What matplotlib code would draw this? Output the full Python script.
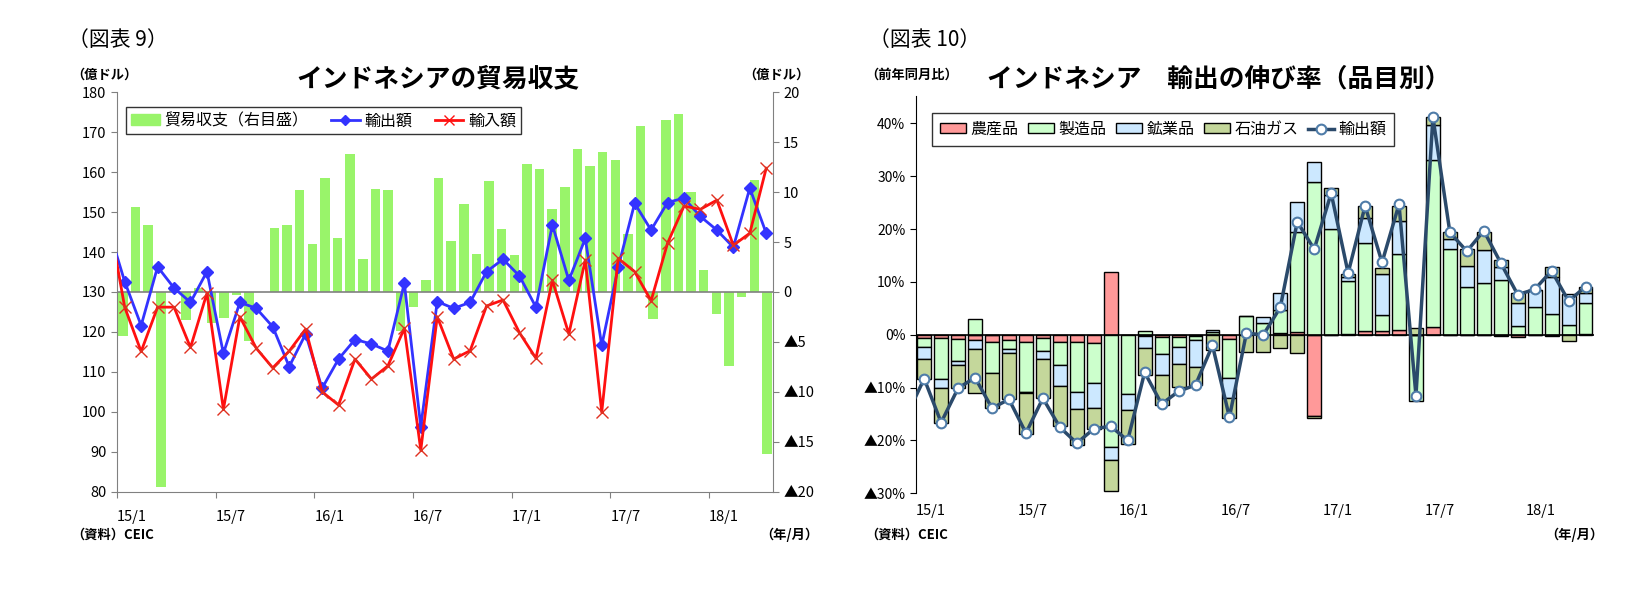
import numpy as np
import matplotlib
matplotlib.use("Agg")
import matplotlib.pyplot as plt
from matplotlib.lines import Line2D
from matplotlib.patches import Patch

plt.rcParams["font.family"] = ["Noto Sans CJK JP", "DejaVu Sans"]

# ---------- Chart 9 data ----------
months9 = ["15/1", "15/7", "16/1", "16/7", "17/1", "17/7", "18/1"]
export_prev = 146.2
import_prev = 149.2
exports = [132.6, 121.6, 136.3, 131.0, 127.4, 135.1, 114.6, 127.4, 125.9, 121.3,
           111.3, 119.5, 105.9, 113.2, 118.1, 117.0, 115.2, 132.2, 96.3, 127.6,
           125.9, 127.4, 135.1, 138.2, 134.0, 126.2, 146.8, 132.9, 143.4, 116.6,
           136.2, 152.2, 145.5, 152.4, 153.5, 148.9, 145.5, 141.2, 156.0, 144.7]
imports = [126.2, 115.1, 126.2, 126.2, 116.1, 129.7, 100.6, 123.8, 115.9, 111.0,
           115.2, 120.7, 105.0, 101.7, 113.2, 108.2, 111.5, 120.9, 90.4, 123.8,
           113.2, 115.3, 126.5, 128.0, 119.8, 113.4, 132.9, 119.5, 138.0, 99.9,
           138.4, 135.1, 127.8, 142.2, 151.5, 150.7, 153.0, 141.7, 144.7, 161.0]
balance = [-4.4, 8.5, 6.7, -19.5, 0.3, -2.8, 0.4, -3.1, -2.6, -0.3,
           -4.9, 0.0, 6.4, 6.7, 10.2, 4.8, 11.4, 5.4, 13.8, 3.3,
           10.3, 10.2, -3.9, -1.5, 1.2, 11.4, 5.1, 8.8, 3.8, 11.1,
           6.3, 3.7, 12.8, 12.3, 8.3, 10.5, 14.3, 12.6, 14.0, 13.2,
           5.8, 16.6, -2.7, 17.2, 17.8, 10.0, 2.2, -2.2, -7.4, -0.5,
           11.2, -16.2]

# ---------- Chart 10 data ----------
months10 = ["15/1", "15/7", "16/1", "16/7", "17/1", "17/7", "18/1"]
agri = [-0.6, -0.6, -0.8, -0.9, -1.3, -0.9, -1.3, -0.6, -1.3, -1.3,
        -1.5, 11.8, -0.1, -0.3, -0.4, -0.4, -0.3, -0.1, -0.8, 0.0,
        0.0, 0.4, 0.6, -15.4, 0.0, 0.2, 0.7, 0.7, 0.9, 0.0,
        1.5, 0.0, -0.1, -0.1, -0.3, -0.4, -0.1, -0.2, 0.0, 0.1]
manu = [-1.7, -7.8, -4.2, 3.0, -6.0, -1.8, -9.5, -2.5, -4.5, -9.5,
        -7.6, -21.3, -11.1, 0.8, -3.2, -1.9, -0.6, 0.6, -7.4, 3.6,
        2.3, 4.3, 18.8, 28.9, 20.0, 10.0, 16.6, 3.1, 14.4, -12.6,
        31.6, 16.2, 9.1, 9.8, 10.4, 1.6, 5.2, 3.9, 1.8, 5.9]
mine = [-2.3, -1.7, -0.8, -1.8, 0.0, -0.8, -0.3, -1.5, -3.8, -3.2,
        -4.7, -2.3, -3.1, -2.2, -4.1, -3.2, -5.2, 0.3, -3.8, 0.0,
        1.0, 3.2, 5.7, 3.8, 6.4, 0.8, 4.9, 7.8, 6.2, 0.0,
        6.7, 1.9, 4.0, 6.2, 2.5, 4.4, 3.2, 7.1, 5.9, 1.9]
oil = [-3.8, -6.6, -4.3, -8.3, -6.6, -8.7, -7.6, -7.4, -7.7, -6.8,
       -4.0, -5.9, -6.4, -5.2, -5.5, -4.4, -3.4, -2.8, -3.8, -3.2,
       -3.3, -2.5, -3.5, -0.3, 1.4, 0.6, 2.2, 1.1, 2.8, 1.3,
       1.5, 1.3, 3.1, 3.4, 1.3, 1.9, 0.0, 1.8, -1.1, 1.1]
total_prev = -15.1
total = [-8.3, -16.6, -10.1, -8.1, -13.9, -12.2, -18.6, -12.0, -17.5, -20.5,
         -17.8, -17.3, -20.0, -7.1, -13.1, -10.7, -9.5, -2.0, -15.6, 0.3,
         0.0, 5.2, 21.4, 16.2, 26.8, 11.7, 24.4, 13.7, 24.7, -11.5,
         41.2, 19.4, 15.8, 19.7, 13.6, 7.6, 8.6, 12.1, 6.4, 9.1]

def neg_label(v, suffix=""):
    v = int(round(v))
    return ("▲" + str(-v) if v < 0 else str(v)) + suffix

fig = plt.figure(figsize=(16.52, 6.03), dpi=100)

# ================= Chart 9 =================
rect9 = [0.0708, 0.1846, 0.397, 0.6624]
axb = fig.add_axes(rect9)
xb = np.arange(len(balance))
axb.bar(xb, balance, width=0.75, color="#99F46A", zorder=1)
axb.set_xlim(-0.47, len(balance) - 0.53)
axb.set_ylim(-20, 20)
axb.yaxis.tick_right()
axb.set_yticks(np.arange(-20, 21, 5))
axb.set_yticklabels([neg_label(v) for v in np.arange(-20, 21, 5)])
axb.set_xticks([])
for s in ["top", "left", "bottom"]:
    axb.spines[s].set_visible(False)
axb.spines["right"].set_color("#808080")
axb.tick_params(axis="y", labelsize=10.5, direction="out", length=4, color="#808080")

axl = fig.add_axes(rect9, facecolor="none")
n = len(exports)
xl = np.arange(-1, n)
axl.axhline(130, color="#808080", lw=1.2, zorder=1)
axl.plot(xl, [export_prev] + exports, color="#3333FF", lw=2, marker="D", ms=6, zorder=3)
axl.plot(xl, [import_prev] + imports, color="#FF1010", lw=2, marker="x", ms=8, mec="#E03020", mew=1, zorder=4)
axl.set_xlim(-0.47, n - 0.6)
axl.set_ylim(80, 180)
axl.set_yticks(np.arange(80, 181, 10))
axl.set_xticks(np.arange(0, n, 6) - 0.47)
axl.set_xticklabels(months9, ha="left")
for s in ["top", "right"]:
    axl.spines[s].set_visible(False)
axl.spines["left"].set_color("#808080")
axl.spines["bottom"].set_color("#808080")
axl.tick_params(axis="both", labelsize=10.5, direction="out", length=4, color="#808080")
axl.tick_params(axis="x", pad=9)

h9 = [Patch(color="#99F46A"),
      Line2D([], [], color="#3333FF", lw=2, marker="D", ms=5),
      Line2D([], [], color="#FF1010", lw=2, marker="x", ms=7)]
leg9 = fig.legend(h9, ["貿易収支（右目盛）", "輸出額", "輸入額"], loc="upper left",
                  bbox_to_anchor=(0.0715, 0.835), ncol=3, fontsize=11.5, frameon=True,
                  fancybox=False, edgecolor="black", handlelength=1.8, columnspacing=1.4,
                  borderpad=0.3, handletextpad=0.3)
leg9.get_frame().set_linewidth(1)

fig.text(0.041, 0.934, "（図表 9）", fontsize=15, ha="left", va="center")
fig.text(0.265, 0.869, "インドネシアの貿易収支", fontsize=18.5, fontweight="bold", ha="center", va="center")
fig.text(0.043, 0.876, "（億ドル）", fontsize=9.5, fontweight="bold", ha="left", va="center")
fig.text(0.450, 0.876, "（億ドル）", fontsize=9.5, fontweight="bold", ha="left", va="center")
fig.text(0.043, 0.113, "（資料）CEIC", fontsize=9.5, fontweight="bold", ha="left", va="center")
fig.text(0.478, 0.113, "（年/月）", fontsize=9.5, fontweight="bold", ha="center", va="center")

# ================= Chart 10 =================
ax2 = fig.add_axes([0.5543, 0.1819, 0.4106, 0.6589])
x2 = np.arange(len(total))
comps = [agri, manu, mine, oil]
colors = ["#FF9999", "#CCFFCC", "#CCE8FF", "#C4D79B"]
labels = ["農産品", "製造品", "鉱業品", "石油ガス"]
pos_base = np.zeros(len(total))
neg_base = np.zeros(len(total))
for vals, c, lab in zip(comps, colors, labels):
    v = np.array(vals)
    bottom = np.where(v >= 0, pos_base, neg_base)
    ax2.bar(x2, v, bottom=bottom, width=0.82, color=c, edgecolor="black", lw=1, label=lab, zorder=2)
    pos_base = pos_base + np.where(v >= 0, v, 0)
    neg_base = neg_base + np.where(v < 0, v, 0)
ax2.axhline(0, color="black", lw=1.2, zorder=3)
ax2.plot(np.arange(-1, len(total)), [total_prev] + total, color="#2B4A6B", lw=2.5, marker="o",
         ms=7, mfc="white", mec="#4F7CA8", mew=1.5, zorder=4, label="輸出額")
ax2.set_xlim(-0.5, len(total) - 0.5)
ax2.set_ylim(-30, 45.2)
ax2.set_yticks(np.arange(-30, 41, 10))
ax2.set_yticklabels([neg_label(v, "%") for v in np.arange(-30, 41, 10)])
ax2.set_xticks(np.arange(0, len(total), 6) - 0.5)
ax2.set_xticklabels(months10, ha="left")
for s in ["top", "right", "bottom"]:
    ax2.spines[s].set_visible(False)
ax2.tick_params(axis="y", labelsize=10, direction="out", length=4)
ax2.tick_params(axis="x", labelsize=10.5, length=0, pad=8)
h2, l2 = ax2.get_legend_handles_labels()
order = [1, 2, 3, 4, 0]
leg10 = fig.legend([h2[i] for i in order], [l2[i] for i in order], loc="upper left",
                   bbox_to_anchor=(0.5595, 0.826), ncol=5, fontsize=11.5, frameon=True,
                   fancybox=False, edgecolor="black", handlelength=1.6, columnspacing=0.6,
                   borderpad=0.5, handletextpad=0.3, handleheight=0.6)
leg10.get_frame().set_linewidth(1)

fig.text(0.526, 0.934, "（図表 10）", fontsize=15, ha="left", va="center")
fig.text(0.738, 0.869, "インドネシア　輸出の伸び率（品目別）", fontsize=18.5, fontweight="bold", ha="center", va="center")
fig.text(0.524, 0.876, "（前年同月比）", fontsize=9.5, fontweight="bold", ha="left", va="center")
fig.text(0.524, 0.113, "（資料）CEIC", fontsize=9.5, fontweight="bold", ha="left", va="center")
fig.text(0.953, 0.113, "（年/月）", fontsize=9.5, fontweight="bold", ha="center", va="center")

fig.savefig("out.png", dpi=100, facecolor="white")
